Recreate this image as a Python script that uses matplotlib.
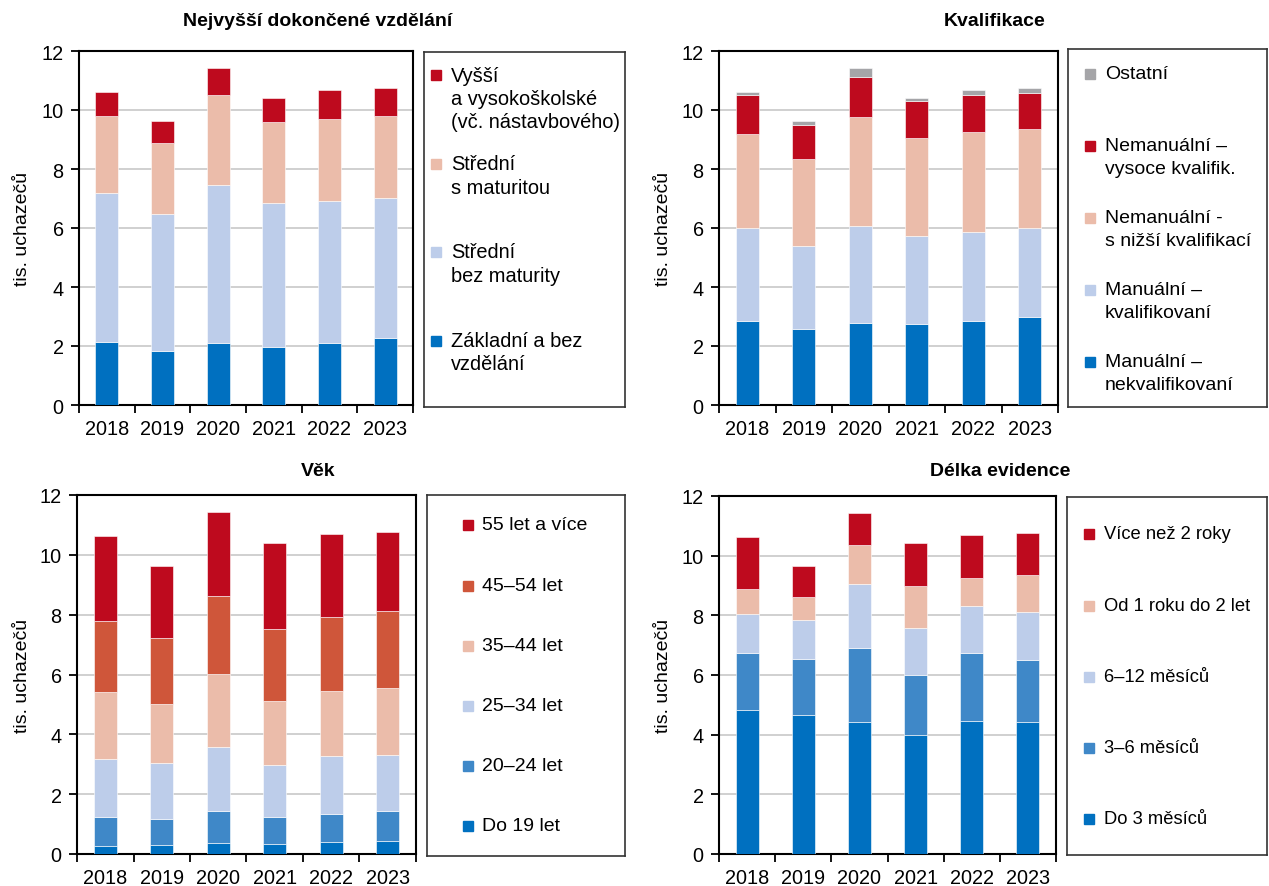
import matplotlib
matplotlib.use("Agg")
import matplotlib.pyplot as plt
from matplotlib.patches import Rectangle
import numpy as np

plt.rcParams["font.family"] = ["Liberation Sans", "DejaVu Sans"]

# ---------------------------------------------------------------------------
# Data (tis. uchazečů)
# ---------------------------------------------------------------------------
years = ["2018", "2019", "2020", "2021", "2022", "2023"]

# Nejvyšší dokončené vzdělání
edu_labels = ["Základní a bez\nvzdělání", "Střední\nbez maturity",
              "Střední\ns maturitou", "Vyšší\na vysokoškolské\n(vč. nástavbového)"]
edu_zakladni = [2.14, 1.84, 2.10, 1.95, 2.11, 2.26]
edu_bez_mat = [5.05, 4.63, 5.36, 4.89, 4.82, 4.77]
edu_s_mat = [2.61, 2.40, 3.06, 2.74, 2.76, 2.78]
edu_vyssi = [0.82, 0.77, 0.92, 0.83, 0.99, 0.95]

# Kvalifikace
kval_labels = ["Manuální –\nnekvalifikovaní", "Manuální –\nkvalifikovaní",
               "Nemanuální -\ns nižší kvalifikací", "Nemanuální –\nvysoce kvalifik.",
               "Ostatní"]
kval_man_nekv = [2.84, 2.59, 2.77, 2.75, 2.84, 2.98]
kval_man_kv = [3.15, 2.81, 3.31, 2.99, 3.01, 3.02]
kval_nem_nizsi = [3.21, 2.94, 3.68, 3.31, 3.39, 3.36]
kval_nem_vys = [1.32, 1.16, 1.37, 1.24, 1.28, 1.23]
kval_ostatni = [0.10, 0.14, 0.31, 0.12, 0.16, 0.17]

# Věk
age_labels = ["Do 19 let", "20–24 let", "25–34 let", "35–44 let",
              "45–54 let", "55 let a více"]
age_do19 = [0.28, 0.31, 0.37, 0.33, 0.40, 0.45]
age_20_24 = [0.95, 0.85, 1.06, 0.90, 0.93, 0.98]
age_25_34 = [1.96, 1.87, 2.16, 1.76, 1.93, 1.89]
age_35_44 = [2.23, 1.97, 2.43, 2.12, 2.18, 2.23]
age_45_54 = [2.36, 2.21, 2.62, 2.40, 2.49, 2.57]
age_55 = [2.84, 2.43, 2.80, 2.90, 2.75, 2.64]

# Délka evidence
dur_labels = ["Do 3 měsíců", "3–6 měsíců", "6–12 měsíců",
              "Od 1 roku do 2 let", "Více než 2 roky"]
dur_do3 = [4.84, 4.66, 4.43, 3.99, 4.47, 4.43]
dur_3_6 = [1.90, 1.88, 2.47, 2.01, 2.27, 2.06]
dur_6_12 = [1.29, 1.32, 2.15, 1.59, 1.56, 1.63]
dur_1_2 = [0.86, 0.74, 1.31, 1.41, 0.95, 1.24]
dur_2plus = [1.73, 1.04, 1.08, 1.41, 1.43, 1.40]

# ---------------------------------------------------------------------------
# Colours
# ---------------------------------------------------------------------------
BLUE = "#0070C0"
MID_BLUE = "#3F88C8"
LIGHT_BLUE = "#BDCDEA"
PINK = "#EBBCAA"
ORANGE = "#CF563A"
RED = "#BE0A1E"
GRAY = "#A5A5A8"

W, H = 1269, 887
fig = plt.figure(figsize=(W / 100, H / 100), dpi=100)


def px_rect(left, top, right, bottom):
    return [left / W, 1 - bottom / H, (right - left) / W, (bottom - top) / H]


def bar_panel(rect, series, colors, title, title_x, title_y, ylab_x):
    ax = fig.add_axes(px_rect(*rect))
    x = np.arange(len(years))
    bottom = np.zeros(len(years))
    for vals, c in zip(series, colors):
        ax.bar(x, vals, width=0.41, bottom=bottom, color=c,
               edgecolor="white", linewidth=0.4, zorder=3)
        bottom += np.array(vals)
    ax.set_xlim(-0.5, len(years) - 0.5)
    ax.set_ylim(0, 12)
    ax.set_yticks(range(0, 13, 2))
    ax.set_xticks(x)
    ax.set_xticklabels(years)
    ax.set_xticks(np.arange(-0.5, len(years)), minor=True)
    ax.tick_params(axis="x", which="major", length=0, labelsize=14.3, pad=10)
    ax.tick_params(axis="x", which="minor", length=6, width=1.3, direction="out")
    ax.tick_params(axis="y", length=6, width=1.3, direction="out", labelsize=14.3, pad=5)
    ax.grid(axis="y", color="#C8C8C8", linewidth=1.2, zorder=0)
    for s in ax.spines.values():
        s.set_linewidth(1.5)
    fig.text(title_x / W, 1 - title_y / H, title, ha="center", va="center",
             fontsize=14, fontweight="bold")
    fig.text(ylab_x / W, 1 - (rect[1] + rect[3]) / 2 / H, "tis. uchazečů",
             rotation=90, ha="center", va="center", fontsize=14)
    return ax


def legend_box(rect, labels, colors, ys, mark_x, text_x, size=14):
    # manual legend: marker next to the first line of each label
    left, top, right, bottom = rect
    lax = fig.add_axes(px_rect(*rect))
    lax.set_xlim(left, right)
    lax.set_ylim(bottom, top)
    lax.set_xticks([])
    lax.set_yticks([])
    for s in lax.spines.values():
        s.set_linewidth(1.2)
        s.set_color("#333333")
    for lab, c, y in zip(labels, colors, ys):
        lax.add_patch(Rectangle((mark_x, y - 5), 10, 10, color=c))
        for i, line in enumerate(lab.split("\n")):
            lax.text(text_x, y + i * 23, line, ha="left", va="center",
                     fontsize=size)


# ---------------------------------------------------------------------------
# Panel 1 - vzdělání
# ---------------------------------------------------------------------------
c1 = [BLUE, LIGHT_BLUE, PINK, RED]
bar_panel((79, 52, 413, 406), [edu_zakladni, edu_bez_mat, edu_s_mat, edu_vyssi],
          c1, "Nejvyšší dokončené vzdělání", 318, 22, 23)
legend_box((424, 53, 625, 408), edu_labels[::-1], c1[::-1],
           [76, 165, 253, 342], 431, 451, size=14.4)

# ---------------------------------------------------------------------------
# Panel 2 - kvalifikace
# ---------------------------------------------------------------------------
c2 = [BLUE, LIGHT_BLUE, PINK, RED, GRAY]
bar_panel((719, 52, 1058, 406),
          [kval_man_nekv, kval_man_kv, kval_nem_nizsi, kval_nem_vys, kval_ostatni],
          c2, "Kvalifikace", 995, 22, 663)
legend_box((1068, 50, 1267, 408), kval_labels[::-1], c2[::-1],
           [75, 147, 219, 291, 363], 1085, 1105)

# ---------------------------------------------------------------------------
# Panel 3 - věk
# ---------------------------------------------------------------------------
c3 = [BLUE, MID_BLUE, LIGHT_BLUE, PINK, ORANGE, RED]
bar_panel((77, 496, 416, 855),
          [age_do19, age_20_24, age_25_34, age_35_44, age_45_54, age_55],
          c3, "Věk", 318, 472, 23)
legend_box((427, 496, 625, 857), age_labels[::-1], c3[::-1],
           [526, 587, 647, 707, 767, 827], 463, 482)

# ---------------------------------------------------------------------------
# Panel 4 - délka evidence
# ---------------------------------------------------------------------------
c4 = [BLUE, MID_BLUE, LIGHT_BLUE, PINK, RED]
bar_panel((719, 497, 1056, 855),
          [dur_do3, dur_3_6, dur_6_12, dur_1_2, dur_2plus],
          c4, "Délka evidence", 1000, 472, 663)
legend_box((1067, 498, 1267, 856), dur_labels[::-1], c4[::-1],
           [535, 607, 678, 749, 820], 1084, 1104, size=13.2)

fig.savefig("out.png", dpi=100, facecolor="white")
